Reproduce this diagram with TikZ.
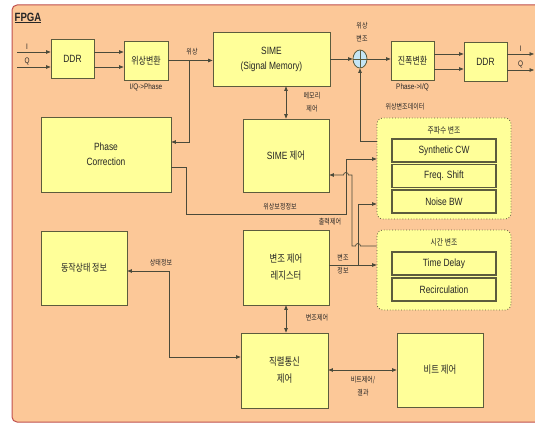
\documentclass[tikz,border=0pt]{standalone}
\usepackage{fontspec}
\setmainfont{Liberation Sans}[FakeStretch=0.8]
\newfontfamily\kr{Noto Sans CJK KR}[FakeStretch=0.8]
\usetikzlibrary{arrows.meta,shapes.geometric}
\definecolor{panel}{HTML}{FCC898}
\definecolor{panelrim}{HTML}{C0504D}
\definecolor{boxfill}{HTML}{FFFF99}
\definecolor{boxrim}{HTML}{5C5C3D}
\definecolor{wirecol}{HTML}{4A4A3A}
\definecolor{modfill}{HTML}{C5E6F5}
\tikzset{
  every node/.style={font=\fontsize{10.5}{15}\selectfont,text=black!85},
  blk/.style={draw=boxrim,fill=boxfill,line width=0.8pt,align=center,inner sep=1pt},
  grp/.style={draw=boxrim,fill=boxfill,dotted,line width=0.8pt,rounded corners=6pt},
  sub/.style={draw=boxrim,fill=boxfill,line width=1.3pt,minimum width=104pt,minimum height=23pt},
  wire/.style={draw=wirecol,line width=0.7pt},
  lbl/.style={font=\fontsize{8}{13}\selectfont,align=center,inner sep=0pt},
  klbl/.style={font=\fontsize{7.5}{13}\selectfont\kr,align=center,inner sep=0pt},
  ttl/.style={font=\fontsize{8.5}{13}\selectfont\kr,inner sep=0pt}
}
\begin{document}
\begin{tikzpicture}[x=1pt,y=-1pt,>={Triangle[length=4.5pt,width=3.5pt]}]
\useasboundingbox (0,0) rectangle (535,425);
\clip (0,0) rectangle (535,425);
\filldraw[draw=panelrim,fill=panel,line width=1pt,rounded corners=5pt] (12,5) rectangle (560,422);
\node[font=\fontsize{12}{14}\selectfont\bfseries,inner sep=0pt] (fpga) at (28,18) {\underline{FPGA}};

% top row
\node[blk,minimum width=43pt,minimum height=39pt] (ddrA) at (72.5,58.5) {DDR};
\node[blk,minimum width=44pt,minimum height=39pt,font=\fontsize{10}{15}\selectfont\kr] (phs) at (146,60.5) {위상변환};
\node[blk,minimum width=117pt,minimum height=54pt] (sime) at (271.5,59) {SIME\\(Signal Memory)};
\node[draw=boxrim,fill=modfill,ellipse,minimum width=14pt,minimum height=18pt,inner sep=0pt,line width=0.8pt] (mod) at (360,59) {};
\node[blk,minimum width=43pt,minimum height=39pt,font=\fontsize{10}{15}\selectfont\kr] (amp) at (412.5,60.5) {진폭변환};
\node[blk,minimum width=43pt,minimum height=39pt] (ddrB) at (485.5,61.5) {DDR};

% middle row
\node[blk,minimum width=130pt,minimum height=75pt] (pc) at (106,154.5) {Phase\\Correction};
\node[blk,minimum width=86pt,minimum height=73pt] (simec) at (286,155.5) {SIME {\kr 제어}};
\node[grp,minimum width=134pt,minimum height=101pt] (grpF) at (444,168.5) {};
\node[ttl] (ttlF) at (444,130) {주파수 변조};
\node[sub] (cw) at (444,150.5) {Synthetic CW};
\node[sub] (fs) at (444,176) {Freq. Shift};
\node[sub] (nbw) at (444,201.5) {Noise BW};
\node[grp,minimum width=134pt,minimum height=80pt] (grpT) at (444,270) {};
\node[ttl] (ttlT) at (444,242) {시간 변조};
\node[sub] (td) at (444,263.5) {Time Delay};
\node[sub] (rec) at (444,289.5) {Recirculation};

% lower rows
\node[blk,minimum width=86pt,minimum height=75pt,font=\fontsize{10.5}{17}\selectfont\kr] (reg) at (286,267.5) {변조 제어\\레지스터};
\node[blk,minimum width=86pt,minimum height=74pt,font=\fontsize{10}{15}\selectfont\kr] (state) at (84,268) {동작상태 정보};
\node[blk,minimum width=87pt,minimum height=75pt,font=\fontsize{10.5}{17}\selectfont\kr] (ser) at (284.5,370.5) {직렬통신\\제어};
\node[blk,minimum width=86pt,minimum height=74pt,font=\fontsize{10.5}{15}\selectfont\kr] (bit) at (440,370) {비트 제어};

% I/Q in and out
\coordinate (inI) at (17,52);
\coordinate (inQ) at (17,67);
\coordinate (outI) at (534,54);
\coordinate (outQ) at (534,70);
\draw[wire,->] (inI) -- (inI -| ddrA.west) node[lbl,pos=0.3,above=2pt] {I};
\draw[wire,->] (inQ) -- (inQ -| ddrA.west) node[lbl,pos=0.3,above=2pt] {Q};
\draw[wire,->] (ddrA.east |- inI) -- (phs.west |- inI);
\draw[wire,->] (ddrA.east |- inQ) -- (phs.west |- inQ);
\node[lbl] at (146,87) {I/Q->Phase};
\draw[wire,->] (ddrB.east |- outI) -- (outI) node[lbl,pos=0.5,above=2pt] {I};
\draw[wire,->] (ddrB.east |- outQ) -- (outQ) node[lbl,pos=0.5,above=2pt] {Q};
\draw[wire,->] ([yshift=6.5pt]amp.east) -- ([yshift=6.5pt]amp.east -| ddrB.west);
\draw[wire,->] ([yshift=-8.5pt]amp.east) -- ([yshift=-8.5pt]amp.east -| ddrB.west);
\node[lbl] at (412.5,87) {Phase->I/Q};

% phase path
\coordinate (brA) at (189,60.5);
\draw[wire,->] (phs.east) -- (phs.east -| sime.west);
\node[klbl] at (192,52) {위상};
\draw[wire,->] (brA) |- ([yshift=12.5pt]pc.east);
\draw[wire,->] (sime.east) -- (mod.west);
\draw[wire,->] (mod.east) -- (mod.east -| amp.west);
\draw[draw=boxrim,line width=0.6pt] (mod.north) -- (mod.south) (mod.west) -- (mod.east);
\node[klbl] at (362,32) {위상\\변조};
\draw[wire,<->] (simec.north |- sime.south) -- (simec.north);
\node[klbl] at (312,102.5) {메모리\\제어};
\draw[wire,->] ([yshift=27.5pt]grpF.west) -| (mod.south);
\node[klbl] at (405,107) {위상변조데이터};

% control lines
\draw[wire,->] ([yshift=-12.5pt]pc.east) -- ++(15,0) |- (346,214) |- ([yshift=9.5pt]grpF.west);
\node[klbl] at (280,207) {위상보정정보};
\draw[wire,->] ([yshift=24pt]grpT.west) -- (360.5,246) arc[start angle=0,end angle=180,radius=2.5pt] -- (352,246) |- (348.5,175) arc[start angle=0,end angle=180,radius=2.5pt] -- ([yshift=-19.5pt]simec.east);
\node[klbl] at (330,222) {출력제어};
\coordinate (brB) at (358,265);
\draw[wire,->] ([yshift=2.5pt]reg.east) -- ([yshift=5pt]grpT.west);
\draw[wire,->] (brB) |- ([yshift=-35.5pt]grpF.west);
\node[klbl] at (343,264) {변조\\정보};
\draw[wire,<->] (reg.south) -- (reg.south |- ser.north);
\node[klbl] at (317,318) {변조제어};
\draw[wire,<->] ([yshift=-3pt]state.east) -- ++(42,0) |- ([yshift=13.5pt]ser.west);
\node[klbl] at (161,263) {상태정보};
\draw[wire,<->] (ser.east |- bit.west) -- (bit.west);
\node[klbl] at (363,386.5) {비트제어/\\결과};
\end{tikzpicture}
\end{document}
